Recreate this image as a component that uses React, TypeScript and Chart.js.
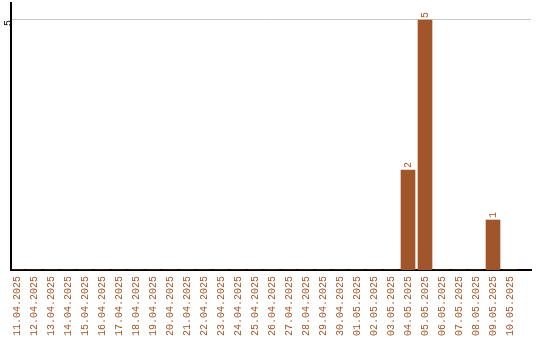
import React, { useEffect, useRef } from "react";
import { Chart, registerables } from "chart.js";

Chart.register(...registerables);

// Daily counts, 11.04.2025 – 10.05.2025
const dates: string[] = [
  "11.04.2025", "12.04.2025", "13.04.2025", "14.04.2025", "15.04.2025",
  "16.04.2025", "17.04.2025", "18.04.2025", "19.04.2025", "20.04.2025",
  "21.04.2025", "22.04.2025", "23.04.2025", "24.04.2025", "25.04.2025",
  "26.04.2025", "27.04.2025", "28.04.2025", "29.04.2025", "30.04.2025",
  "01.05.2025", "02.05.2025", "03.05.2025", "04.05.2025", "05.05.2025",
  "06.05.2025", "07.05.2025", "08.05.2025", "09.05.2025", "10.05.2025",
];
const counts: number[] = [
  0, 0, 0, 0, 0, 0, 0, 0, 0, 0,
  0, 0, 0, 0, 0, 0, 0, 0, 0, 0,
  0, 0, 0, 2, 5, 0, 0, 0, 1, 0,
];
const yTicks: number[] = [5];

const BAR_COLOR = "#A0562A";
const LABEL_COLOR = "#A0562A";
const FONT_FAMILY = "'Liberation Mono', 'DejaVu Sans Mono', monospace";

const valueLabels = {
  id: "valueLabels",
  afterDatasetsDraw(chart: any) {
    const ctx = chart.ctx;
    const meta = chart.getDatasetMeta(0);
    ctx.save();
    ctx.fillStyle = LABEL_COLOR;
    ctx.font = `10px ${FONT_FAMILY}`;
    ctx.textAlign = "left";
    ctx.textBaseline = "middle";
    meta.data.forEach((bar: any, i: number) => {
      const v = counts[i];
      if (!v) return;
      ctx.save();
      ctx.translate(bar.x, bar.y - 2);
      ctx.rotate(-Math.PI / 2);
      ctx.fillText(String(v), 0, 0);
      ctx.restore();
    });
    ctx.restore();
  },
};

export default function App() {
  const canvasRef = useRef<HTMLCanvasElement | null>(null);

  useEffect(() => {
    if (!canvasRef.current) return;
    const chart = new Chart(canvasRef.current, {
      type: "bar",
      data: {
        datasets: [
          {
            data: counts.map((v, i) => ({ x: i, y: v })),
            backgroundColor: BAR_COLOR,
            borderWidth: 0,
            barThickness: 14,
          },
        ],
      },
      options: {
        responsive: false,
        animation: false,
        layout: { padding: { top: 3, right: 9, left: 0, bottom: 0 } },
        plugins: {
          legend: { display: false },
          tooltip: { enabled: false },
        },
        scales: {
          x: {
            type: "linear",
            min: -0.353,
            max: 30.235,
            offset: false,
            grid: { display: false, drawTicks: false },
            border: { display: true, color: "#000", width: 2 },
            afterBuildTicks: (scale: any) => {
              scale.ticks = dates.map((_, i) => ({ value: i }));
            },
            afterFit: (scale: any) => {
              scale.height = 70;
              scale.paddingLeft = 0;
              scale.paddingRight = 0;
            },
            ticks: {
              autoSkip: false,
              minRotation: 90,
              maxRotation: 90,
              padding: 6,
              color: LABEL_COLOR,
              font: { family: FONT_FAMILY, size: 10 },
              callback: (value: any) => dates[value as number] ?? "",
            },
          },
          y: {
            min: 0,
            max: 5.34,
            grid: { display: true, color: "#c8c8c8", lineWidth: 1, drawTicks: false },
            border: { display: true, color: "#000", width: 2 },
            afterBuildTicks: (scale: any) => {
              scale.ticks = yTicks.map((v) => ({ value: v }));
            },
            afterFit: (scale: any) => {
              scale.width = 11;
              scale.paddingTop = 0;
              scale.paddingBottom = 0;
            },
            ticks: {
              minRotation: 90,
              maxRotation: 90,
              padding: 3,
              color: "#000",
              font: { family: FONT_FAMILY, size: 10 },
            },
          },
        },
      },
      plugins: [valueLabels],
    });
    return () => chart.destroy();
  }, []);

  return (
    <div style={{ position: "fixed", left: 0, top: 0, width: 540, height: 340, background: "#fff" }}>
      <canvas ref={canvasRef} width={540} height={340} style={{ display: "block" }} />
    </div>
  );
}
